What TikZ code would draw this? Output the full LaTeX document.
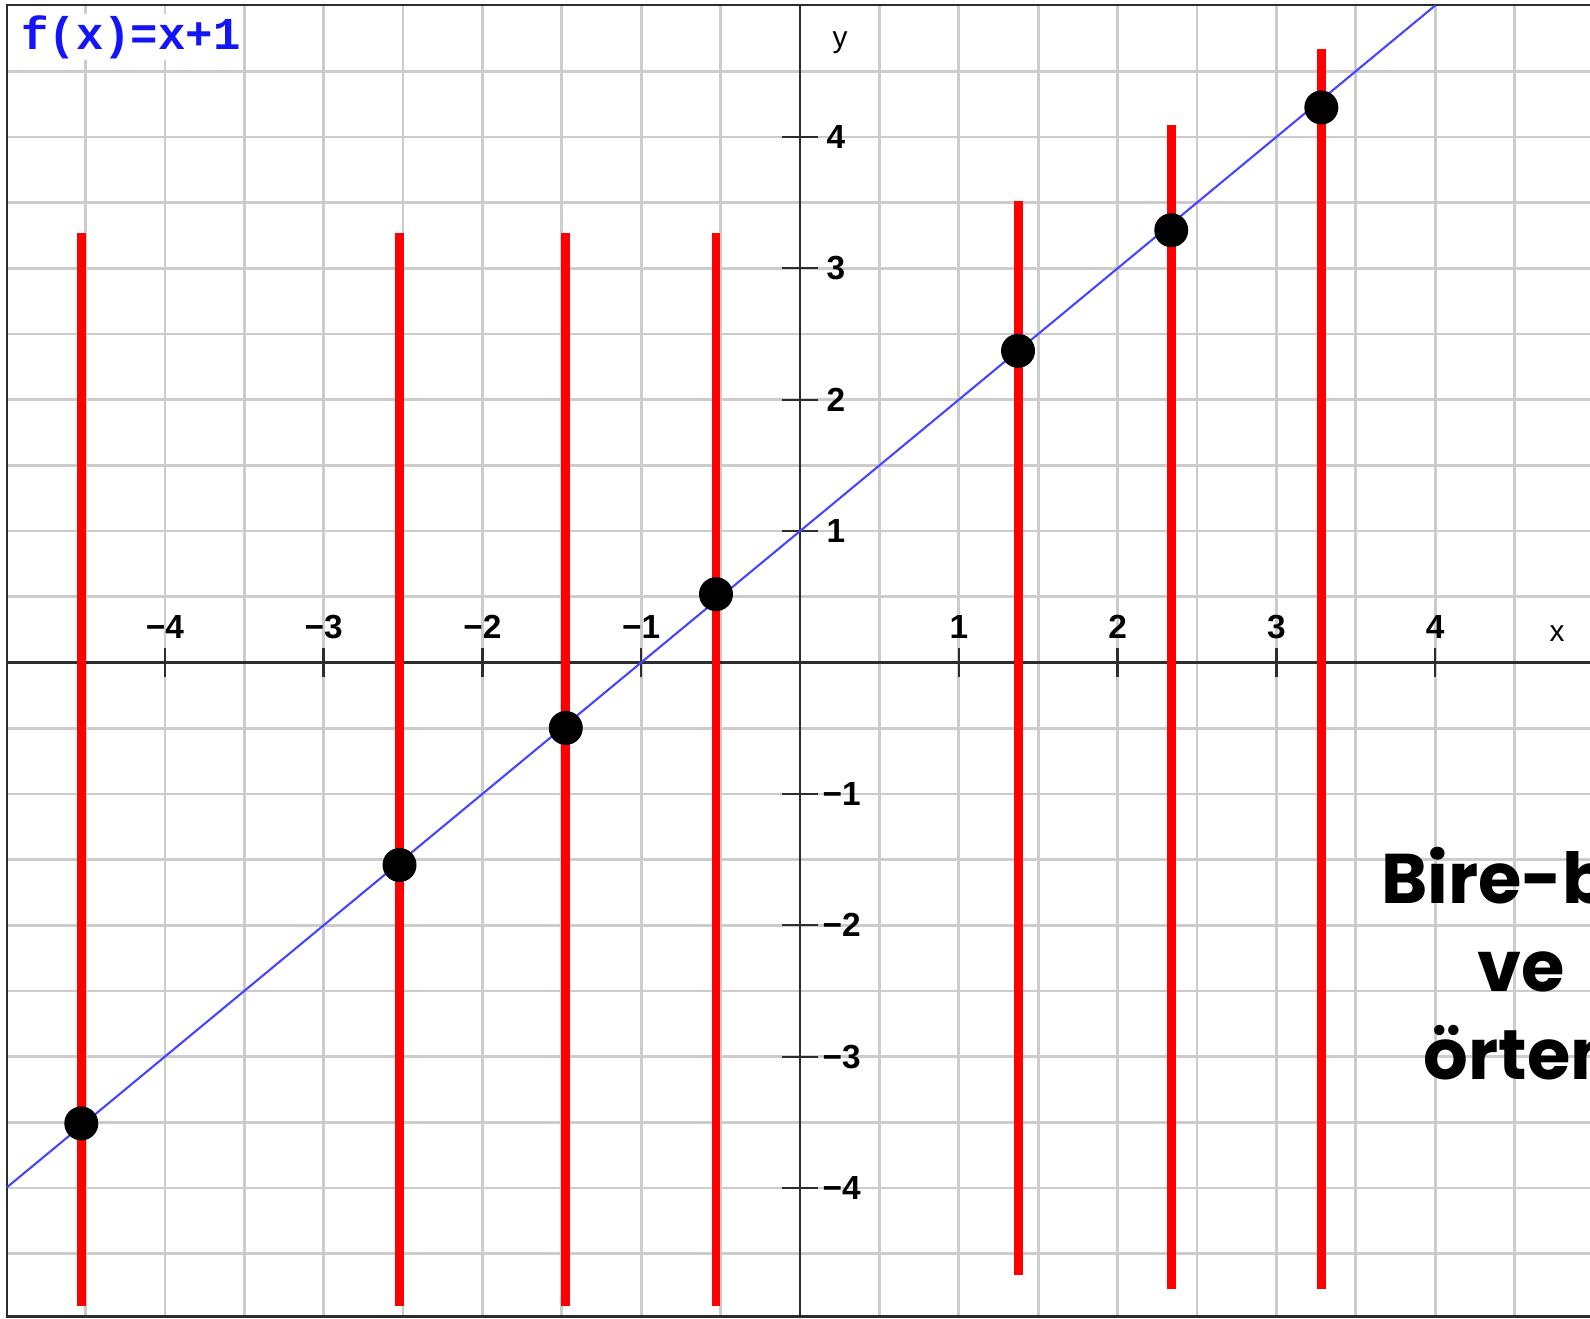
\documentclass[tikz,border=0pt]{standalone}
\usepackage{fontspec}
\setmainfont{Liberation Sans}
\newfontfamily\formulafont{Liberation Mono}
\newfontfamily\notefont{Poppins}
\usepackage{xcolor}
\definecolor{gridgray}{RGB}{204,204,204}
\definecolor{axisgray}{RGB}{45,45,45}
\definecolor{formulablue}{RGB}{20,20,250}
\definecolor{lineblue}{RGB}{70,70,255}
\definecolor{barred}{RGB}{255,0,0}
\tikzset{
  gridline/.style={gridgray, line width=1.5pt},
  axisline/.style={axisgray, line width=1.3pt},
  barline/.style={barred, line width=5.1pt},
  dot/.style={circle, fill=black, inner sep=0pt, minimum size=0.68cm},
  ticklabel/.style={font=\fontsize{19}{22}\selectfont\bfseries, inner sep=0pt},
  axislabel/.style={font=\fontsize{17}{20}\selectfont, inner sep=0pt},
}

\begin{document}
\begin{tikzpicture}[x=3.176cm, y=2.628cm]
  \useasboundingbox (-5.038,-4.989) rectangle (4.975,5.042);
  \clip (-5.038,-4.989) rectangle (4.975,5.042);
  % grid
  \foreach \gx in {-4.5,-4,...,4.5}
    \draw[gridline] (\gx,-4.977) -- (\gx,5.004);
  \foreach \gy in {-4.5,-4,...,4.5}
    \draw[gridline] (-4.994,\gy) -- (4.975,\gy);
  % frame
  \draw[axisline] (4.975,5.004) -- (-4.994,5.004) -- (-4.994,-4.977) -- (4.975,-4.977);
  % axes
  \draw[axisline] (-4.994,0) -- (4.975,0);
  \draw[axisline] (0,-4.977) -- (0,5.004);
  \foreach \t in {1,2,3,4} {
    \draw[axisline] (\t,-0.114) -- (\t,0.114);
    \draw[axisline] (-\t,-0.114) -- (-\t,0.114);
    \draw[axisline] (-0.113,\t) -- (0.113,\t);
    \draw[axisline] (-0.113,-\t) -- (0.113,-\t);
    \node[ticklabel] (xp\t) at (\t,0.27) {\t};
    \node[ticklabel] (xn\t) at (-\t,0.27) {−\t};
    \node[ticklabel, anchor=west] (yp\t) at (0.165,\t) {\t};
    \node[ticklabel, anchor=west] (yn\t) at (0.14,-\t) {−\t};
  }
  \node[axislabel] (xlab) at (4.767,0.22) {x};
  \node[axislabel] (ylab) at (0.252,4.72) {y};
  % f(x)=x+1
  \draw[lineblue, line width=1.2pt] (-4.994,-3.994) -- (4,5);
  \foreach \vx/\vy/\vt/\vb [count=\i] in {-4.526/-3.508/3.27/-4.90, -2.522/-1.541/3.27/-4.90,
      -1.475/-0.498/3.27/-4.90, -0.529/0.520/3.27/-4.90, 1.373/2.372/3.51/-4.66,
      2.338/3.290/4.09/-4.77, 3.283/4.224/4.67/-4.77} {
    \draw[barline] (\vx,\vb) -- (\vx,\vt);
    \node[dot] (d\i) at (\vx,\vy) {};
  }
  \node[fill=white, inner sep=1pt, text=formulablue,
    font=\formulafont\fontsize{26}{30}\selectfont\bfseries] (formula) at (-4.213,4.76) {f(x)=x+1};
  \node[align=center, font=\notefont\fontsize{40}{50}\selectfont\bfseries] (note) at (4.54,-2.29)
    {Bire-bir\\ve\\örten};
\end{tikzpicture}
\end{document}
